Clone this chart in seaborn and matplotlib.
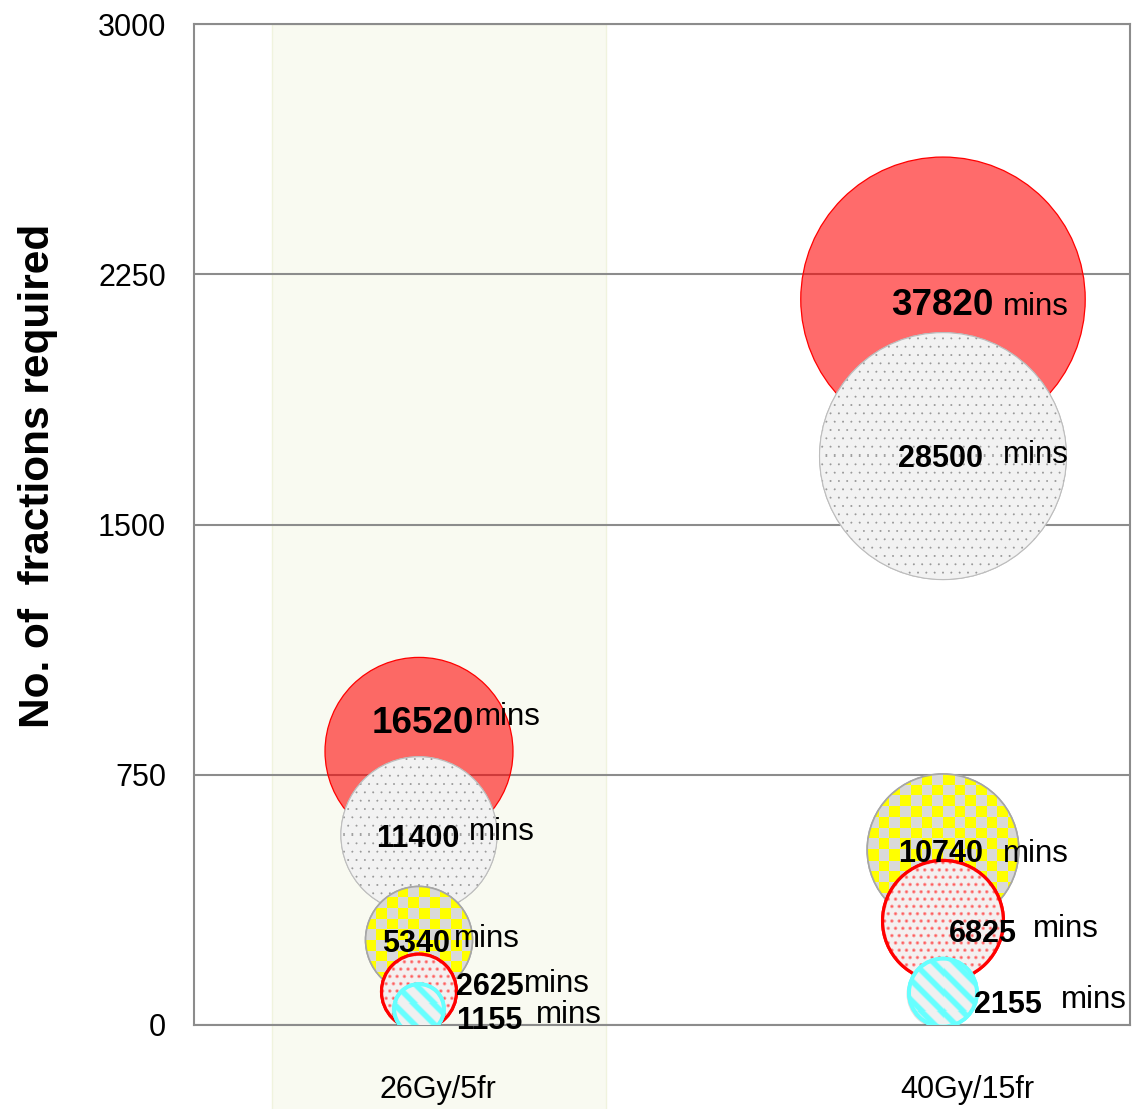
import numpy as np
import pandas as pd
import matplotlib
matplotlib.use("Agg")
import matplotlib.pyplot as plt
import seaborn as sns
from matplotlib.path import Path
from matplotlib.transforms import IdentityTransform, offset_copy

# ---------------------------------------------------------------- data
schedules = ["26Gy/5fr", "40Gy/15fr"]

# treatment time in minutes (bubble area) and number of fractions (bubble height)
solid_mins = [16520, 37820]
solid_fractions = [820, 2175]

fine_dot_mins = [11400, 28500]
fine_dot_fractions = [570, 1705]

checker_mins = [5340, 10740]
checker_fractions = [255, 525]

red_dot_mins = [2625, 6825]
red_dot_fractions = [100, 312]

stripe_mins = [1155, 2155]
stripe_fractions = [48, 97]

y_ticks = [0, 750, 1500, 2250, 3000]
y_label = "No. of  fractions required"
unit_label = "mins"

series_order = ["solid", "fine_dots", "checker", "red_dots", "stripes"]
series_mins = [solid_mins, fine_dot_mins, checker_mins, red_dot_mins, stripe_mins]
series_fractions = [solid_fractions, fine_dot_fractions, checker_fractions,
                    red_dot_fractions, stripe_fractions]

frames = []
for name, mins, frac in zip(series_order, series_mins, series_fractions):
    frames.append(pd.DataFrame({
        "series": name,
        "schedule": schedules,
        "pos": np.arange(len(schedules)),
        "mins": mins,
        "fractions": frac,
    }))
df = pd.concat(frames, ignore_index=True)

# ---------------------------------------------------------------- style
W, H, DPI = 1133, 1109, 100
AREA_PER_MIN = 1.109          # marker area (pt^2) per minute of treatment time
GRID_GREY = "#8C8C8C"
BAND_COLOR = "#F9FAF1"


def rgb(hexcode):
    hexcode = hexcode.lstrip("#")
    return np.array([int(hexcode[i:i + 2], 16) / 255 for i in (0, 2, 4)])


def paint_dots(spacing, radius, dot, bg, soft=1.0):
    dot, bg = rgb(dot), rgb(bg)

    def painter(X, Y):
        row = np.round(Y / spacing)
        shift = (row % 2) * spacing / 2
        dx = X - shift - np.round((X - shift) / spacing) * spacing
        dy = Y - row * spacing
        d = np.hypot(dx, dy)
        a = np.clip((radius + soft / 2 - d) / soft, 0, 1)[..., None]
        return (1 - a) * bg + a * dot
    return painter


def paint_checker(cell, c1, c2):
    c1, c2 = rgb(c1), rgb(c2)

    def painter(X, Y):
        m = ((np.floor(X / cell) + np.floor(Y / cell)) % 2)[..., None]
        return m * c1 + (1 - m) * c2
    return painter


def paint_stripes(period, width, c, bg, soft=2.5):
    c, bg = rgb(c), rgb(bg)

    def painter(X, Y):
        u = np.mod(X - Y, period)
        d = np.minimum(u, period - u)
        a = np.clip((width / 2 + soft / 2 - d) / soft, 0, 1)[..., None]
        return (1 - a) * bg + a * c
    return painter


STYLE = {
    "solid": dict(face=(1.0, 0.0, 0.0, 0.58), edge="#FF0000", lw=0.9,
                  painter=None, num_size=26.5),
    "fine_dots": dict(face="#F2F2F2", edge="#BDBDBD", lw=0.8,
                      painter=paint_dots(8.33, 0.95, "#9A9A9A", "#F2F2F2"),
                      num_size=22),
    "checker": dict(face="#D9D9D9", edge="#A6A6A6", lw=1.2,
                    painter=paint_checker(10.7, "#FFFF00", "#D9D9D9"),
                    num_size=22),
    "red_dots": dict(face="#F2F2F2", edge="#FF0000", lw=2.3,
                     painter=paint_dots(7.3, 1.4, "#FF5C5C", "#F4F0F0", soft=1.8),
                     num_size=22),
    "stripes": dict(face="#F0F0F0", edge="#66FFFF", lw=2.8,
                    painter=paint_stripes(20, 8, "#66FFFF", "#F0F0F0"),
                    num_size=22),
}

# label placement relative to each bubble centre, in pixels:
# (number dx, number dy, unit dx, unit dy), dy measured upwards
LABEL_OFFSETS_PX = {
    "solid": [(-47, 18, 56, 26), (-52, -16, 60, -16)],
    "fine_dots": [(-43, -12, 50, -5), (-45, -11, 60, -7)],
    "checker": [(-37, -12, 35, -7), (-45, -12, 60, -12)],
    "red_dots": [(37, -3, 105, 0), (6, -21, 90, -16)],
    "stripes": [(37, -20, 117, -14), (31, -20, 118, -15)],
}

# ---------------------------------------------------------------- figure
sns.set_style("white")
plt.rcParams["font.family"] = ["Liberation Sans", "DejaVu Sans"]

fig = plt.figure(figsize=(W / DPI, H / DPI), dpi=DPI)
ax = fig.add_axes([194 / W, (H - 1025) / H, (1130 - 194) / W, (1025 - 24) / H])

XLIM = (-0.4294, 1.3569)
YLIM = (0, 3000)
ax.set_xlim(XLIM)
ax.set_ylim(YLIM)


def add_pattern(x, y, area, painter, zorder):
    r = np.sqrt(area) / 2 * fig.dpi / 72
    cx, cy = ax.transData.transform((x, y))
    n = int(np.ceil(r)) + 2
    c = np.arange(-n, n) + 0.5
    X, Y = np.meshgrid(c, c)
    img = painter(X, Y)
    inv = ax.transData.inverted()
    (x0, y0), (x1, y1) = inv.transform([(cx - n, cy - n), (cx + n, cy + n)])
    im = ax.imshow(img, extent=(x0, x1, y0, y1), origin="upper", aspect="auto",
                   interpolation="nearest", zorder=zorder)
    im.set_clip_path(Path.circle((cx, cy), r), IdentityTransform())


# highlighted band behind the first schedule
ax.axvspan(-0.2805, 0.3569, ymin=-0.09, ymax=1.0, facecolor=BAND_COLOR,
           edgecolor="#F0F3DE", linewidth=1.0, zorder=0.1, clip_on=False)

for i, name in enumerate(series_order):
    st = STYLE[name]
    sub = df[df["series"] == name].reset_index(drop=True)
    areas = sub["mins"].to_numpy() * AREA_PER_MIN
    z = 2 + i

    if name == "stripes":
        shadow = offset_copy(ax.transData, fig=fig, x=-1.5, y=-1.5, units="dots")
        ax.scatter(sub["pos"], sub["fractions"], s=areas * 1.06,
                   facecolor=(0, 0, 0, 0.12), edgecolor="none",
                   transform=shadow, zorder=z - 0.1)

    sns.scatterplot(data=sub, x="pos", y="fractions", s=areas,
                    color=st["edge"], facecolor=st["face"], edgecolor=st["edge"],
                    linewidth=st["lw"], legend=False, zorder=z, ax=ax)

    if st["painter"] is not None:
        for xv, yv, a in zip(sub["pos"], sub["fractions"], areas):
            add_pattern(xv, yv, a, st["painter"], z + 0.3)
        ax.scatter(sub["pos"], sub["fractions"], s=areas, facecolor="none",
                   edgecolor=st["edge"], linewidth=st["lw"], zorder=z + 0.6)

    for j, row in sub.iterrows():
        ndx, ndy, mdx, mdy = LABEL_OFFSETS_PX[name][j]
        ax.annotate(f"{row['mins']}", xy=(row["pos"], row["fractions"]),
                    xytext=(ndx * 0.72, ndy * 0.72), textcoords="offset points",
                    ha="left", va="baseline", fontsize=st["num_size"],
                    fontweight="bold", color="black", zorder=20)
        ax.annotate(unit_label, xy=(row["pos"], row["fractions"]),
                    xytext=(mdx * 0.72, mdy * 0.72), textcoords="offset points",
                    ha="left", va="baseline", fontsize=22.5,
                    color="black", zorder=20)

# ---------------------------------------------------------------- axes
ax.set_xlim(XLIM)
ax.set_ylim(YLIM)
ax.set_axisbelow(True)
ax.yaxis.grid(True, color=GRID_GREY, linewidth=1.5)
ax.xaxis.grid(False)

ax.set_xticks([0.0363, 1.0458])
ax.set_xticklabels(schedules)
ax.set_yticks(y_ticks)
ax.set_yticklabels([str(t) for t in y_ticks])
ax.tick_params(axis="x", length=0, pad=36, labelsize=22, labelcolor="black")
ax.tick_params(axis="y", length=0, pad=20, labelsize=22, labelcolor="black")
ax.set_xlabel("")

ax.set_ylabel(y_label, fontsize=30.5, fontweight="bold", color="black", va="center")
ax.yaxis.set_label_coords(-0.1667, 0.5485)

for side in ["left", "right", "top", "bottom"]:
    ax.spines[side].set_visible(True)
    ax.spines[side].set_color(GRID_GREY)
    ax.spines[side].set_linewidth(1.5)
    ax.spines[side].set_zorder(2.5)

fig.savefig("out.png", dpi=DPI, facecolor="white")
